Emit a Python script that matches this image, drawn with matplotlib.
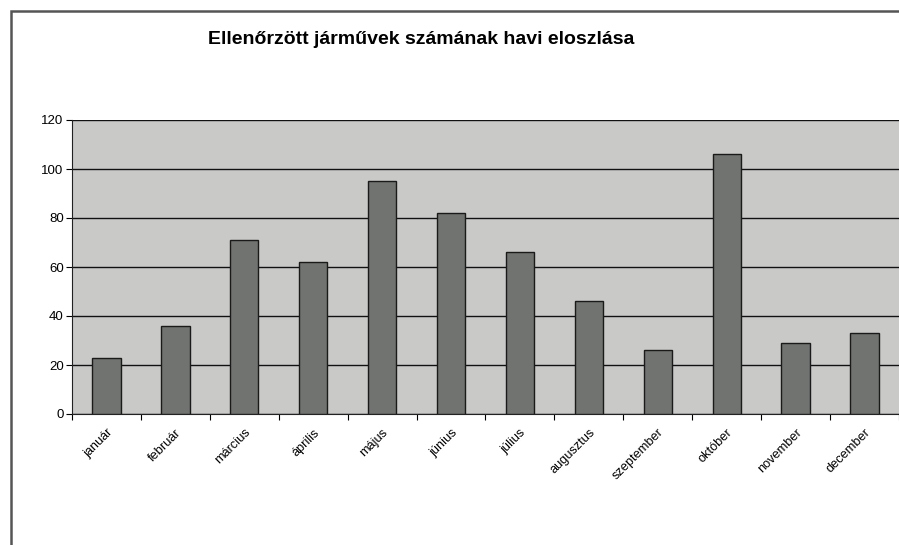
import matplotlib.pyplot as plt
from matplotlib.patches import Rectangle

plt.rcParams['font.family'] = ['Liberation Sans', 'DejaVu Sans']

# havi adatok (leolvasva)
months = ["január", "február", "március", "április", "május", "június",
          "július", "augusztus", "szeptember", "október", "november", "december"]
counts = [23, 36, 71, 62, 95, 82, 66, 46, 26, 106, 29, 33]
y_ticks = [0, 20, 40, 60, 80, 100, 120]

fig = plt.figure(figsize=(8.99, 5.45), dpi=100)
fig.patch.set_facecolor("white")

# outer chart frame (cut off at the right and bottom like in the scan)
frame = Rectangle((11 / 899, -0.05), 1.0, 0.05 + (1 - 11 / 545),
                  transform=fig.transFigure, fill=False,
                  edgecolor="#555555", linewidth=1.8)
fig.patches.append(frame)

ax = fig.add_axes([72 / 899, 1 - 414 / 545, 1 - 72 / 899, (414 - 120) / 545])
ax.set_facecolor("#c9cac8")

x = list(range(len(months)))
ax.bar(x, counts, width=0.41, color="#717371", edgecolor="#1a1a1a",
       linewidth=1.0, zorder=3)

ax.set_xlim(-0.5, len(months) - 0.5)
ax.set_ylim(0, 120)
ax.set_yticks(y_ticks)
ax.tick_params(axis="y", labelsize=9.5, length=4, direction="out", pad=2)
ax.yaxis.grid(True, color="#111111", linewidth=1.0, zorder=1)
ax.set_axisbelow(True)

# ticks at the category boundaries, labels at the centres
ax.set_xticks([i - 0.5 for i in range(len(months) + 1)])
ax.set_xticklabels([])
ax.set_xticks(x, minor=True)
ax.set_xticklabels(months, minor=True, rotation=45, ha="right",
                   rotation_mode="anchor", fontsize=9.2)
ax.tick_params(axis="x", which="major", length=4, direction="out")
ax.tick_params(axis="x", which="minor", length=0, pad=9)

for side in ["top", "right"]:
    ax.spines[side].set_visible(False)
ax.spines["left"].set_color("#222222")
ax.spines["bottom"].set_color("#222222")

fig.text(421 / 899, 1 - 40 / 545, "Ellenőrzött járművek számának havi eloszlása",
         ha="center", va="center", fontsize=14, fontweight="bold")

plt.savefig("out.png", dpi=100)
plt.close()
